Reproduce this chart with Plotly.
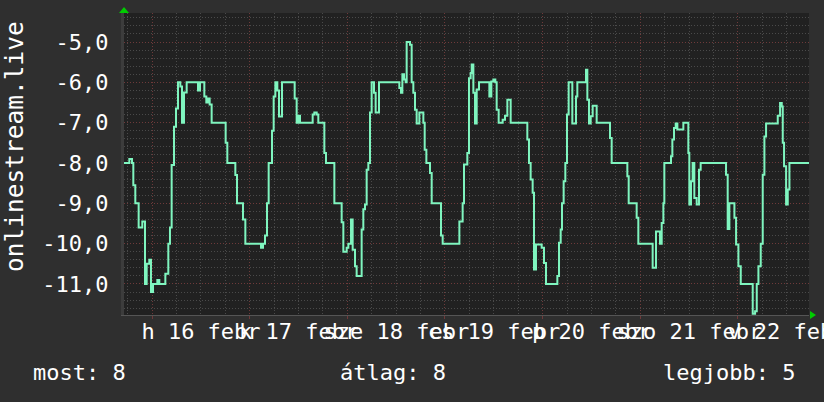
import pandas as pd
import plotly.graph_objects as go

# ---- data (hours after 2015-02-16 00:00, rank shown as negative value) ----
hours = [-6.9, -5.57, -4.91, -4.59, -4.10, -3.28, -2.38, -1.72, -1.31, -0.66, -0.25, 0.25, 1.31, 1.80,
         3.28, 4.01, 4.42, 4.83, 5.41, 5.90, 6.39, 6.96, 7.37, 7.86, 8.52, 11.30, 11.80, 12.86, 13.35,
         13.76, 14.17, 14.66, 18.10, 18.51, 20.48, 20.89, 22.36, 22.94, 26.79, 27.28, 27.77, 28.26,
         28.67, 29.49, 29.90, 30.31, 30.80, 31.21, 31.95,
         35.06, 35.55, 35.88, 36.37, 39.48, 39.89, 40.47, 40.87, 42.35, 42.76, 44.81, 46.61, 47.02,
         47.84, 48.25, 48.91, 49.31, 49.89, 50.29, 51.52, 51.93, 52.34, 52.75, 53.16, 53.57, 53.98,
         54.55, 54.96, 55.78, 60.78, 61.19, 61.52, 61.93, 62.34, 62.58, 63.40, 63.81, 64.22, 64.63,
         65.04, 65.70, 66.68, 67.01, 67.42, 68.32, 68.73, 71.02, 71.43, 75.53,
         76.34, 76.67, 77.49, 77.90, 78.31, 78.56, 78.97, 79.38, 79.79, 80.36, 82.90, 83.39, 83.88,
         84.37, 84.70, 85.19, 86.17, 86.75, 87.32, 88.14, 92.23, 92.64, 93.05, 93.54, 93.87, 94.36,
         95.76, 96.33, 96.82, 99.61, 100.02, 100.43, 100.75, 101.16, 101.57, 101.98, 102.39, 103.29,
         104.19, 104.52, 106.65, 106.98, 107.39, 107.80, 108.29, 109.27, 112.55, 112.96, 116.81, 117.14,
         119.10, 119.51, 123.03, 123.85, 124.84, 125.25, 125.66, 125.90, 127.54, 127.87, 128.28,
         128.69, 129.10, 130.57, 131.80, 132.04, 132.45, 132.86, 133.27, 133.85, 134.42, 134.83,
         141.06, 141.47, 141.88, 143.12, 143.53, 144.10, 144.68, 147.62, 148.20, 148.61, 149.02,
         149.59, 150.08, 150.49, 150.90, 153.77, 154.34, 154.75, 155.00, 155.32, 155.82, 156.23,
         156.64, 161.5]
rank = [-8.0, -7.9, -8.0, -8.55, -9.0, -9.6, -9.45, -11.0, -10.5, -10.4, -11.2, -11.0, -10.9, -11.0,
        -10.75, -10.0, -9.6, -8.05, -7.1, -6.65, -6.0, -6.1, -7.0, -6.25, -6.0, -6.2, -6.0, -6.35, -6.5,
        -6.4, -6.55, -7.0, -7.5, -8.0, -8.3, -9.0, -9.4, -10.0, -10.1, -10.0, -9.8, -9.0,
        -8.0, -7.2, -6.35, -6.0, -6.2, -6.85, -6.0,
        -6.4, -7.0, -6.83, -7.0, -6.8, -6.75, -6.8, -7.0, -7.75, -8.0, -9.0, -9.47, -10.2,
        -10.1, -10.0, -9.4, -10.15, -10.56, -10.8, -9.65, -9.15, -9.03, -8.17, -8.0, -6.75, -6.0,
        -6.26, -6.75, -6.0, -6.14, -6.26, -5.8, -5.93, -6.0, -5.0, -5.07, -6.0, -6.26, -6.68,
        -7.02, -6.75, -7.0, -7.67, -8.0, -8.25, -9.0, -9.8, -10.0, -9.45,
        -9.0, -8.04, -7.75, -5.9, -5.77, -5.56, -6.26, -7.02, -6.18, -6.0, -6.35, -5.98, -5.93,
        -6.0, -6.68, -7.0, -6.93, -6.83, -6.43, -7.0, -7.42, -8.0, -8.41, -8.74, -10.64, -10.02,
        -10.1, -10.48, -11.0, -10.8, -9.98, -9.65, -9.0, -8.45, -8.0, -6.8, -6.0, -7.02,
        -6.35, -6.0, -5.69, -6.43, -7.02, -6.84, -6.58, -7.0, -7.38, -8.0, -8.33, -9.0,
        -9.36, -10.0, -10.6, -9.7, -10.0, -9.49, -9.0, -8.0, -7.83, -7.42, -7.13,
        -7.02, -7.17, -7.0, -7.75, -9.03, -8.45, -8.0, -8.87, -9.03, -8.17, -8.0,
        -8.29, -9.64, -9.0, -9.36, -10.02, -10.56, -11.0, -11.74, -11.68, -11.0, -10.56,
        -10.0, -8.29, -7.34, -7.02, -6.83, -6.51, -6.6, -7.5, -8.08, -9.03, -8.66,
        -8.0, -8.0]

day_dates = ["2015-02-16", "2015-02-17", "2015-02-18", "2015-02-19", "2015-02-20", "2015-02-21", "2015-02-22"]
day_labels = ["h 16 febr", "k 17 febr", "sze 18 febr", "cs 19 febr", "p 20 febr", "szo 21 febr", "v 22 febr"]
y_ticks = [-11, -10, -9, -8, -7, -6, -5]
y_labels = ["-11,0", "-10,0", "-9,0", "-8,0", "-7,0", "-6,0", "-5,0"]
y_title = "onlinestream.live"
legend_items = ["most: 8", "átlag: 8", "legjobb: 5"]

# ---- figure ----
base = pd.Timestamp("2015-02-16")
times = [base + pd.Timedelta(hours=h) for h in hours]
x_range = [base + pd.Timedelta(hours=-6.88), base + pd.Timedelta(hours=161.45)]

BG = "#2f2f2f"
CANVAS = "#212121"
LINE = "#7ff5bf"
MAJOR = "#6e3a3a"
MINOR = "#4a4a4a"
FONT = "DejaVu Sans Mono"

fig = go.Figure()
fig.add_trace(go.Scatter(x=times, y=rank, mode="lines",
                         line=dict(color=LINE, width=2, shape="hv"),
                         hoverinfo="skip", showlegend=False))

fig.update_layout(
    template="none",
    width=824, height=402,
    margin=dict(l=124, r=15, t=13, b=87, autoexpand=False),
    paper_bgcolor=BG, plot_bgcolor=CANVAS,
    showlegend=False,
    font=dict(family=FONT, color="#ffffff", size=22),
)

fig.update_xaxes(
    type="date", range=x_range, automargin=False,
    tickmode="array", tickvals=day_dates, ticktext=day_labels,
    ticklabelshift=49, ticklabelstandoff=-6, ticklabeloverflow="allow", tickangle=0,
    ticks="outside", ticklen=3, tickcolor=MAJOR,
    tickfont=dict(family=FONT, size=22, color="#ffffff"),
    showgrid=True, gridcolor=MAJOR, griddash="1px,2px", gridwidth=1,
    minor=dict(dtick=6 * 3600 * 1000, tick0="2015-02-16", showgrid=True,
               gridcolor=MINOR, griddash="1px,2px", gridwidth=1, ticks=""),
    showline=True, linecolor="#555555", linewidth=1,
    zeroline=False, fixedrange=True,
)

fig.update_yaxes(
    range=[-11.77, -4.28], automargin=False,
    tickmode="array", tickvals=y_ticks, ticktext=y_labels,
    ticks="", ticklabelstandoff=8,
    tickfont=dict(family=FONT, size=22, color="#ffffff"),
    showgrid=True, gridcolor=MAJOR, griddash="1px,2px", gridwidth=1,
    minor=dict(dtick=0.2, tick0=-5, showgrid=True, gridcolor=MINOR,
               griddash="1px,2px", gridwidth=1),
    showline=True, linecolor="#3c3c3c", linewidth=3,
    zeroline=False, fixedrange=True,
)

# axis arrows (rrdtool style)
fig.add_shape(type="path", xref="paper", yref="paper",
              path="M -0.0073,1.0 L 0.0073,1.0 L 0.0,1.0199 Z",
              fillcolor="#00cc00", line=dict(width=0))
fig.add_shape(type="path", xref="paper", yref="paper",
              path="M 1.0015,0.0132 L 1.0015,-0.0132 L 1.0102,0.0 Z",
              fillcolor="#00cc00", line=dict(width=0))

# y-axis title
fig.add_annotation(text=y_title, xref="paper", yref="paper",
                   x=(14 - 124) / 685, y=(315 - 147) / 302, textangle=-90,
                   xanchor="center", yanchor="middle", showarrow=False,
                   font=dict(family=FONT, size=24.5, color="#ffffff"))

# legend line
legend_x = [31, 338, 661]
for txt, px in zip(legend_items, legend_x):
    fig.add_annotation(text=txt, xref="paper", yref="paper",
                       x=(px - 124) / 685, y=(315 - 372) / 302,
                       xanchor="left", yanchor="middle", showarrow=False,
                       font=dict(family=FONT, size=22, color="#ffffff"))

fig.write_html("out.html", config={"displayModeBar": False},
               post_script="document.body.style.margin='0px';")
